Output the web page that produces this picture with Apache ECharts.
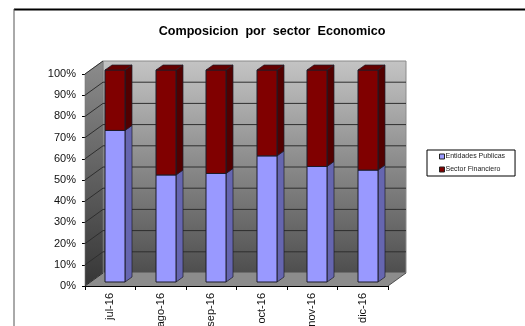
<!DOCTYPE html>
<html><head><meta charset="utf-8">
<style>html,body{margin:0;padding:0;background:#fff}#c{width:525px;height:326px}</style>
<script src="https://cdn.jsdelivr.net/npm/echarts@6/dist/echarts.min.js"></script></head>
<body><div id="c"></div>
<script>
var categories = ['jul-16','ago-16','sep-16','oct-16','nov-16','dic-16'];
var entidadesPublicas = [71.5,50.5,51.2,59.5,54.5,52.8];
var sectorFinanciero = [28.5,49.5,48.8,40.5,45.5,47.2];
var yTicks = [0,10,20,30,40,50,60,70,80,90,100];
var DX=18, DY=-13, BX=5, BY=-4, BW=20, SX=7, SY=-5;
var chart = echarts.init(document.getElementById('c'),null,{renderer:'canvas'});
function poly(pts,fill,stroke,lw){return {type:'polygon',shape:{points:pts},style:{fill:fill,stroke:stroke||null,lineWidth:lw||0}};}
function vgrad(a,b){return new echarts.graphic.LinearGradient(0,0,0,1,[{offset:0,color:a},{offset:1,color:b}]);}
function renderWalls(params,api){
  var t=api.coord([0,100]), b=api.coord([0,0]);
  var l=params.coordSys.x, r=l+params.coordSys.width, top=t[1], bot=b[1];
  return {type:'group',children:[
    poly([[l+DX,top+DY],[r+DX,top+DY],[r+DX,bot+DY],[l+DX,bot+DY]],vgrad('#c4c4c4','#4e4e4e'),'#8a8a8a',1),
    poly([[l,top],[l+DX,top+DY],[l+DX,bot+DY],[l,bot]],vgrad('#8c8c8c','#363636'),'#777',0.6),
    poly([[l,bot],[l+DX,bot+DY],[r+DX,bot+DY],[r,bot]],'#8c8c8c',null,0),
    {type:'line',shape:{x1:r,y1:bot,x2:r+DX,y2:bot+DY},style:{stroke:'#333',lineWidth:0.8,fill:null}}
  ]};
}
function renderGrid(params,api){
  var p=api.coord([0,api.value(0)]);
  var l=params.coordSys.x, r=l+params.coordSys.width, y=p[1];
  var s={stroke:'#2e2e2e',lineWidth:1,fill:null};
  var kids=[{type:'line',shape:{x1:l,y1:y,x2:l+DX,y2:y+DY},style:s}];
  if(api.value(0)>0 && api.value(0)<100) kids.push({type:'line',shape:{x1:l+DX,y1:y+DY,x2:r+DX,y2:y+DY},style:s});
  return {type:'group',children:kids};
}
function barShape(api,colF,colS,colT,drawTop){
  var lo=api.value(1), hi=api.value(2);
  var c=api.coord([api.value(0),lo]), d=api.coord([api.value(0),hi]);
  var x=Math.round(c[0]+BX-BW/2), y0=c[1]+BY, y1=d[1]+BY;
  var st='#1c1c28';
  var kids=[
    poly([[x+BW,y0],[x+BW+SX,y0+SY],[x+BW+SX,y1+SY],[x+BW,y1]],colS,st,0.7),
    poly([[x,y0],[x+BW,y0],[x+BW,y1],[x,y1]],colF,st,1)
  ];
  if(drawTop) kids.push(poly([[x,y1],[x+SX,y1+SY],[x+BW+SX,y1+SY],[x+BW,y1]],colT,st,0.7));
  return {type:'group',children:kids};
}
var lowData=categories.map(function(c,i){return [i,0,entidadesPublicas[i]];});
var highData=categories.map(function(c,i){return [i,entidadesPublicas[i],entidadesPublicas[i]+sectorFinanciero[i]];});
chart.setOption({
  animation:false,
  backgroundColor:'#fff',
  title:{text:'Composicion  por  sector  Economico',left:267,textAlign:'center',top:20,
    textStyle:{fontFamily:'Liberation Sans',fontWeight:'bold',fontSize:12.6,color:'#000'}},
  legend:{orient:'vertical',left:427,top:150,padding:[3,10,3,12],itemWidth:5,itemHeight:5,itemGap:6,
    borderColor:'#000',borderWidth:1,icon:'rect',selectedMode:false,
    textStyle:{fontFamily:'Liberation Sans',fontSize:7,color:'#222',padding:[0,0,0,-4]},
    data:[{name:'Entidades Publicas',itemStyle:{color:'#9999ff',borderColor:'#222',borderWidth:1}},
          {name:'Sector Financiero',itemStyle:{color:'#800000',borderColor:'#222',borderWidth:1}}]},
  grid:{left:85,top:74,width:303,height:212,containLabel:false,outerBoundsMode:'none'},
  xAxis:{type:'category',data:categories,boundaryGap:true,
    axisLine:{lineStyle:{color:'#000',width:1}},
    axisTick:{show:true,alignWithLabel:false,length:4,lineStyle:{color:'#000'}},
    axisLabel:{rotate:90,interval:0,margin:7,fontFamily:'Liberation Sans',fontSize:11,color:'#111'}},
  yAxis:{type:'value',min:0,max:100,interval:10,
    splitLine:{show:false},
    axisLine:{show:true,lineStyle:{color:'#000',width:1}},
    axisTick:{show:true,length:3,lineStyle:{color:'#000'}},
    axisLabel:{formatter:'{value}%',margin:9,fontFamily:'Liberation Sans',fontSize:11,color:'#111'}},
  graphic:[
    {type:'line',z:-1,shape:{x1:14,y1:9.5,x2:525,y2:9.5},style:{stroke:'#000',lineWidth:2}},
    {type:'line',z:-1,shape:{x1:14,y1:9,x2:14,y2:326},style:{stroke:'#555',lineWidth:1}}
  ],
  series:[
    {type:'custom',name:'walls',silent:true,z:1,data:[[0]],renderItem:renderWalls,encode:{y:0}},
    {type:'custom',name:'gridlines',silent:true,z:2,data:yTicks.map(function(v){return [v];}),renderItem:renderGrid,encode:{y:0}},
    {type:'custom',name:'Entidades Publicas',z:3,data:lowData,encode:{x:0,y:[1,2]},
      renderItem:function(p,api){return barShape(api,'#9999ff','#6666b0','#7a7acc',false);}},
    {type:'custom',name:'Sector Financiero',z:4,data:highData,encode:{x:0,y:[1,2]},
      renderItem:function(p,api){return barShape(api,'#800000','#520000','#640000',true);}}
  ]
});
</script></body></html>
